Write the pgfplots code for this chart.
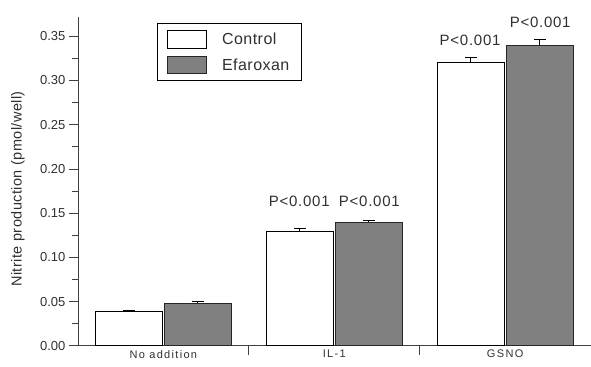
\documentclass[border=0pt]{standalone}
\usepackage{pgfplots}
\pgfplotsset{compat=1.18}
\usepackage{fontspec}
\setmainfont{Liberation Sans}
\definecolor{efgray}{HTML}{808080}
\definecolor{axgray}{HTML}{404040}
\definecolor{txt}{HTML}{303030}
\pgfplotstableread{
x y e
1 0.0385 0.0015
2 0.1290 0.0035
3 0.3200 0.0060
}\control
\pgfplotstableread{
x y e
1 0.0483 0.0023
2 0.1396 0.0025
3 0.3400 0.0070
}\efaroxan
\begin{document}
\begin{tikzpicture}
\begin{axis}[
  name=ax,
  scale only axis,
  width=513pt, height=329pt,
  xmin=0.5, xmax=3.5, ymin=0, ymax=0.3718,
  axis lines*=left,
  axis line style={axgray, line width=0.8pt},
  ybar=2pt, bar width=67pt,
  xtick={1.5,2.5}, xticklabels={},
  extra x ticks={1,2,3},
  extra x tick labels={No addition,IL-1,GSNO},
  extra x tick style={major tick length=0pt},
  ytick={0,0.05,...,0.35},
  minor y tick num=1,
  tick align=outside,
  major tick length=9pt, minor tick length=6pt,
  tick style={axgray, line width=0.8pt},
  /pgf/number format/assume math mode=true,
  /pgf/number format/fixed,
  /pgf/number format/fixed zerofill,
  /pgf/number format/precision=2,
  yticklabel style={font=\fontsize{13}{15}\selectfont, text=txt},
  xticklabel style={font=\fontsize{11}{13}\selectfont\addfontfeature{LetterSpace=12}, text=txt, yshift=-1pt},
  ylabel={Nitrite production (pmol/well)},
  every axis y label/.style={at={(axis description cs:-0.117,0.477)}, rotate=90, anchor=center,
    font=\fontsize{14.5}{16}\selectfont\addfontfeature{LetterSpace=3}, text=txt},
  error bars/y dir=plus, error bars/y explicit,
  error bars/error mark options={rotate=90, mark size=6pt, line width=0.8pt, black},
  error bars/error bar style={line width=0.8pt, black},
  legend image code/.code={\draw[#1, line width=0.8pt] (0pt,-8.5pt) rectangle (39pt,9pt);},
  legend style={at={(0.154,0.982)}, anchor=north west, draw=black, line width=0.8pt,
    font=\fontsize{16}{18}\selectfont\addfontfeature{LetterSpace=3}, text=txt, inner xsep=10pt, inner ysep=7pt,
    row sep=7pt, cells={anchor=west},
    /tikz/every odd column/.append style={column sep=13pt}},
  clip=false,
]
\addplot[fill=white, draw=black, line width=0.8pt] table[x=x, y=y, y error=e]{\control};
\addplot[fill=efgray, draw=black!85, line width=0.8pt] table[x=x, y=y, y error=e]{\efaroxan};
\legend{Control, Efaroxan}
\draw[axgray, line width=0.8pt] (rel axis cs:0,0) -- ([xshift=-9pt]rel axis cs:0,0);
\node[anchor=base, text=txt, font=\fontsize{15}{17}\selectfont\addfontfeature{LetterSpace=5}] at (axis cs:1.795,0.158) {P<0.001};
\node[anchor=base, text=txt, font=\fontsize{15}{17}\selectfont\addfontfeature{LetterSpace=5}] at (axis cs:2.205,0.158) {P<0.001};
\node[anchor=base, text=txt, font=\fontsize{15}{17}\selectfont\addfontfeature{LetterSpace=5}] at (axis cs:2.795,0.339) {P<0.001};
\node[anchor=base, text=txt, font=\fontsize{15}{17}\selectfont\addfontfeature{LetterSpace=5}] at (axis cs:3.205,0.360) {P<0.001};
\end{axis}
\path ([xshift=-78pt,yshift=-21pt]ax.south west) rectangle ([yshift=17pt]ax.north east);
\end{tikzpicture}
\end{document}
